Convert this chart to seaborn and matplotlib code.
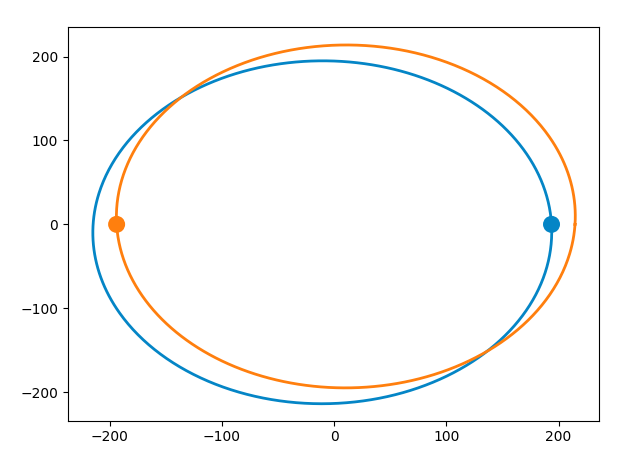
import numpy as np
import pandas as pd
import matplotlib
matplotlib.use("Agg")
import matplotlib.pyplot as plt
import seaborn as sns

# Orbit parameters (focus at origin)
bodies = ["body 1", "body 2"]
semi_major = [204.6, 204.6]
eccentricity = [0.069, 0.069]
periapsis_deg = [42.0, 222.0]
start_x = [193.7, -193.7]
start_y = [0.0, 0.0]
colors = ["#0485c6", "#ff7f0e"]

rows = []
theta = np.linspace(0, 2 * np.pi, 721)
for name, a, e, w in zip(bodies, semi_major, eccentricity, periapsis_deg):
    wr = np.deg2rad(w)
    r = a * (1 - e ** 2) / (1 + e * np.cos(theta - wr))
    for xi, yi in zip(r * np.cos(theta), r * np.sin(theta)):
        rows.append((name, xi, yi))
df = pd.DataFrame(rows, columns=["body", "x", "y"])
pts = pd.DataFrame({"body": bodies, "x": start_x, "y": start_y})

fig = plt.figure(figsize=(6.34, 4.61), dpi=100)
ax = fig.add_axes([68 / 634, 1 - 420.7 / 461, (599 - 68) / 634, (420.7 - 27.5) / 461])
pal = dict(zip(bodies, colors))
sns.lineplot(data=df, x="x", y="y", hue="body", palette=pal, sort=False,
             estimator=None, linewidth=2, legend=False, ax=ax)
sns.scatterplot(data=pts, x="x", y="y", hue="body", palette=pal, s=150,
                edgecolor="none", legend=False, ax=ax, zorder=3)
ax.set_xlim(-237, 236)
ax.set_ylim(-234, 234.6)
ax.set_xticks([-200, -100, 0, 100, 200])
ax.set_yticks([-200, -100, 0, 100, 200])
ax.set_xlabel("")
ax.set_ylabel("")
fig.savefig("out.png", dpi=100)
